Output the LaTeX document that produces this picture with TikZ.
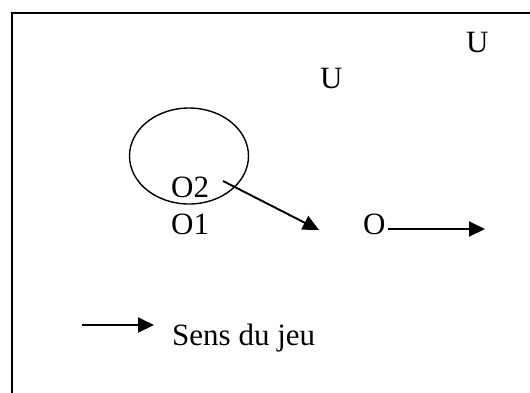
\documentclass[tikz,border=0pt]{standalone}
\usepackage{fontspec}
\setmainfont{Liberation Serif}
\usetikzlibrary{arrows.meta}
\begin{document}
\begin{tikzpicture}[x=1pt,y=-1pt,
  lbl/.style={anchor=base west,inner sep=0pt,font=\fontsize{31}{36}\selectfont},
  arr/.style={line width=1.9pt,-{Triangle[length=16pt,width=15pt]}}]
\useasboundingbox (0,0) rectangle (530,392);
\begin{scope}
\clip (0,0) rectangle (530,392);
\draw[line width=2pt] (12,12.5) rectangle (560,420);
\end{scope}
\node[lbl] (u1) at (466,52) {U};
\node[lbl] (u2) at (320,88) {U};
\draw[line width=1.4pt] (189,156) ellipse [x radius=59.5, y radius=48];
\node[lbl] (o2) at (171,197) {O2};
\node[lbl] (o1) at (171,234) {O1};
\node[lbl] (o) at (363,234) {O};
\coordinate (a1s) at (223,181);
\coordinate (a1e) at (319,230);
\coordinate (a2s) at (388,229);
\coordinate (a2e) at (485,229);
\coordinate (a3s) at (82,325);
\coordinate (a3e) at (154,325);
\draw[arr] (a1s) -- (a1e);
\draw[arr] (a2s) -- (a2e);
\draw[arr] (a3s) -- (a3e);
\node[lbl] (sens) at (172,345) {Sens du jeu};
\end{tikzpicture}
\end{document}
